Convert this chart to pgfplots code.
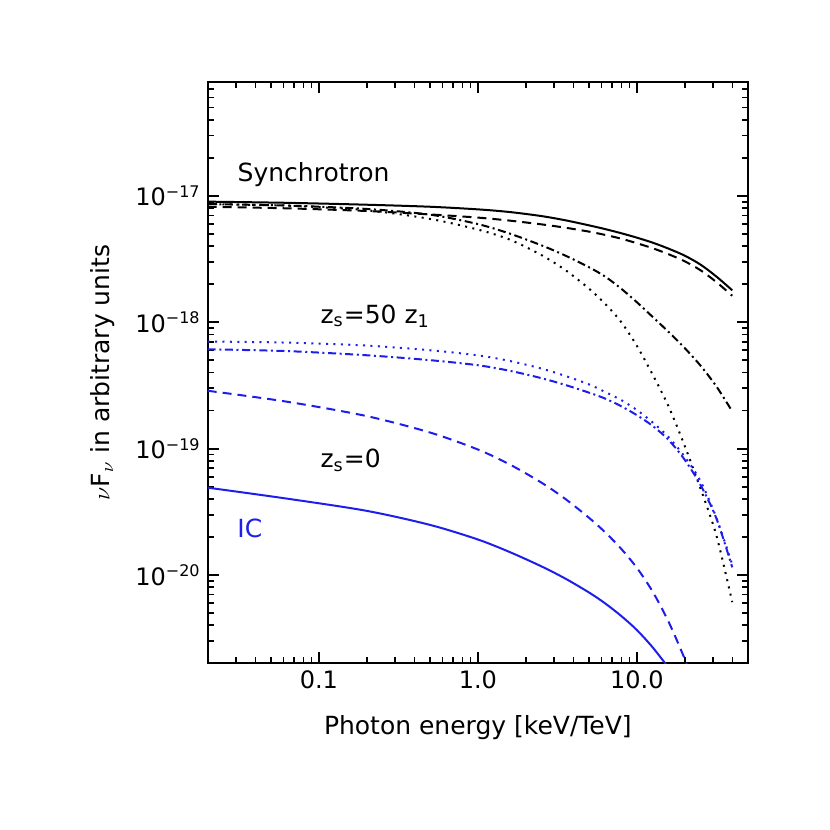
\documentclass[border=0pt]{standalone}
\usepackage{fontspec}
\setmainfont{DejaVu Sans}
\usepackage{pgfplots}
\pgfplotsset{compat=1.18}
\definecolor{icblue}{RGB}{30,30,235}

\begin{document}
\begin{tikzpicture}
\begin{axis}[
  name=ax,
  xmode=log, ymode=log,
  scale only axis,
  width=270.15pt, height=290.8pt,
  xmin=0.02, xmax=50, ymin=2e-21, ymax=8e-17,
  xtick={0.1,1,10}, xticklabels={0.1,1.0,10.0},
  minor xtick={0.03,0.04,0.05,0.06,0.07,0.08,0.09,0.2,0.3,0.4,0.5,0.6,0.7,0.8,0.9,2,3,4,5,6,7,8,9,20,30,40},
  ytick={1e-20,1e-19,1e-18,1e-17},
  yticklabels={10\textsuperscript{−20},10\textsuperscript{−19},10\textsuperscript{−18},10\textsuperscript{−17}},
  minor ytick={3e-21,4e-21,5e-21,6e-21,7e-21,8e-21,9e-21,
    2e-20,3e-20,4e-20,5e-20,6e-20,7e-20,8e-20,9e-20,
    2e-19,3e-19,4e-19,5e-19,6e-19,7e-19,8e-19,9e-19,
    2e-18,3e-18,4e-18,5e-18,6e-18,7e-18,8e-18,9e-18,
    2e-17,3e-17,4e-17,5e-17,6e-17,7e-17},
  tick align=inside,
  major tick length=5.5pt, minor tick length=3pt,
  axis line style={line width=1pt},
  every tick/.style={black, line width=0.9pt},
  tick label style={font=\fontsize{12}{14}\selectfont},
  label style={font=\fontsize{12.5}{15}\selectfont},
  xlabel={Photon energy [keV/TeV]},
  ylabel={$\nu$F\textsubscript{$\nu$} in arbitrary units},
  xlabel style={at={(rel axis cs:0.5,-0.110)}, anchor=center},
  ylabel style={at={(rel axis cs:-0.1943,0.5)}, anchor=center},
  dashed/.style={dash pattern=on 4.5pt off 3pt},
  dashdot/.style={dash pattern=on 4pt off 1.8pt on 1pt off 1.8pt},
  dots/.style={dash pattern=on 1pt off 2.7pt},
]
% synchrotron
\addplot[black, line width=1pt, smooth] coordinates {
  (0.02,9.00e-18) (0.0631,8.81e-18) (0.1995,8.51e-18) (0.501,8.20e-18) (1,7.82e-18)
  (1.585,7.45e-18) (2.512,6.92e-18) (3.548,6.41e-18) (5.012,5.84e-18) (6.310,5.46e-18)
  (7.943,5.07e-18) (10,4.67e-18) (12.59,4.26e-18) (15.85,3.82e-18) (19.95,3.37e-18)
  (25.12,2.86e-18) (31.62,2.30e-18) (39.81,1.79e-18)};
\addplot[black, line width=1pt, smooth, dashed] coordinates {
  (0.02,8.19e-18) (0.0631,7.97e-18) (0.1995,7.59e-18) (0.501,7.13e-18) (1,6.73e-18)
  (1.585,6.37e-18) (2.512,5.95e-18) (3.548,5.60e-18) (5.012,5.21e-18) (6.310,4.91e-18)
  (7.943,4.59e-18) (10,4.22e-18) (12.59,3.85e-18) (15.85,3.45e-18) (19.95,3.04e-18)
  (25.12,2.58e-18) (31.62,2.08e-18) (39.81,1.62e-18)};
\addplot[black, line width=1pt, smooth, dashdot] coordinates {
  (0.02,8.60e-18) (0.0631,8.38e-18) (0.1995,7.88e-18) (0.501,7.10e-18) (1,5.98e-18)
  (1.585,5.03e-18) (2.512,4.06e-18) (3.548,3.37e-18) (5.012,2.72e-18) (6.310,2.30e-18)
  (7.943,1.85e-18) (10,1.44e-18) (12.59,1.10e-18) (15.85,8.37e-19) (19.95,6.27e-19)
  (25.12,4.54e-19) (31.62,3.11e-19) (39.81,1.97e-19)};
\addplot[black, line width=1pt, smooth, dots] coordinates {
  (0.02,8.60e-18) (0.0631,8.37e-18) (0.1995,7.69e-18) (0.501,6.57e-18) (1,5.41e-18)
  (1.585,4.51e-18) (2.512,3.40e-18) (3.548,2.59e-18) (5.012,1.84e-18) (6.310,1.40e-18)
  (7.943,1.01e-18) (10,6.51e-19) (12.59,3.84e-19) (15.85,2.15e-19) (19.95,1.06e-19)
  (25.12,4.84e-20) (31.62,2.06e-20) (39.81,6.10e-21)};
% inverse Compton
\addplot[icblue, line width=1pt, smooth, dots] coordinates {
  (0.02,7.04e-19) (0.0631,6.90e-19) (0.1995,6.54e-19) (0.501,6.00e-19) (1,5.47e-19)
  (1.585,4.94e-19) (2.512,4.30e-19) (3.548,3.76e-19) (5.012,3.22e-19) (6.310,2.81e-19)
  (7.943,2.43e-19) (10,2.02e-19) (12.59,1.61e-19) (15.85,1.23e-19) (19.95,8.66e-20)
  (25.12,5.54e-20) (31.62,2.84e-20) (39.81,1.21e-20)};
\addplot[icblue, line width=1pt, smooth, dashdot] coordinates {
  (0.02,6.11e-19) (0.0631,5.91e-19) (0.1995,5.48e-19) (0.501,5.01e-19) (1,4.57e-19)
  (1.585,4.13e-19) (2.512,3.61e-19) (3.548,3.19e-19) (5.012,2.77e-19) (6.310,2.49e-19)
  (7.943,2.17e-19) (10,1.84e-19) (12.59,1.51e-19) (15.85,1.17e-19) (19.95,8.20e-20)
  (25.12,5.16e-20) (31.62,2.81e-20) (39.81,1.15e-20)};
\addplot[icblue, line width=1pt, smooth, dashed] coordinates {
  (0.02,2.87e-19) (0.0631,2.35e-19) (0.1995,1.81e-19) (0.501,1.34e-19) (1,9.84e-20)
  (1.585,7.50e-20) (2.512,5.38e-20) (3.548,4.00e-20) (5.012,2.83e-20) (6.310,2.18e-20)
  (7.943,1.62e-20) (10,1.14e-20) (12.59,7.36e-21) (15.85,4.25e-21) (19.95,2.18e-21)
  (25.12,1.00e-21)};
\addplot[icblue, line width=1pt, smooth] coordinates {
  (0.02,4.91e-20) (0.0631,4.02e-20) (0.1995,3.22e-20) (0.501,2.49e-20) (1,1.91e-20)
  (1.585,1.52e-20) (2.512,1.17e-20) (3.548,9.37e-21) (5.012,7.26e-21) (6.310,5.97e-21)
  (7.943,4.76e-21) (10,3.67e-21) (12.59,2.67e-21) (15.85,1.84e-21)};
\node[anchor=base west, inner sep=0pt, font=\fontsize{12.5}{15}\selectfont] at (axis cs:0.0307,1.29e-17) {Synchrotron};
\node[anchor=base west, inner sep=0pt, font=\fontsize{12.5}{15}\selectfont] at (axis cs:0.102,9.84e-19) {z\textsubscript{s}=50 z\textsubscript{1}};
\node[anchor=base west, inner sep=0pt, font=\fontsize{12.5}{15}\selectfont] at (axis cs:0.102,7.05e-20) {z\textsubscript{s}=0};
\node[anchor=base west, inner sep=0pt, text=icblue, font=\fontsize{12.5}{15}\selectfont] at (axis cs:0.0306,1.99e-20) {IC};
\end{axis}
\path[use as bounding box] ([xshift=-103.85pt,yshift=-83.35pt]ax.south west) rectangle ([xshift=41pt,yshift=40.85pt]ax.north east);
\end{tikzpicture}
\end{document}
